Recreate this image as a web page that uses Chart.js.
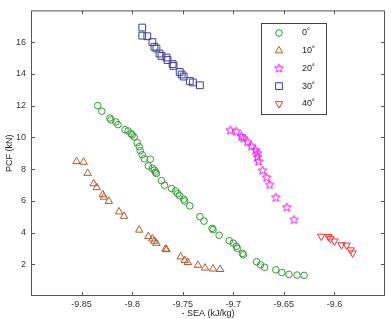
<!DOCTYPE html>
<html>
<head>
<meta charset="utf-8">
<script src="https://cdn.jsdelivr.net/npm/chart.js@4.4.0/dist/chart.umd.min.js"></script>
<style>
html, body { margin: 0; padding: 0; background: #fff; }
#wrap { width: 391px; height: 319px; }
</style>
</head>
<body>
<div id="wrap"><canvas id="c"></canvas></div>
<script>
// 각도별 데이터 (- SEA vs PCF)
const angleLabels = ['0˚', '10˚', '20˚', '30˚', '40˚'];
const xTicks = [-9.85, -9.8, -9.75, -9.7, -9.65, -9.6];
const yTicks = [2, 4, 6, 8, 10, 12, 14, 16];

const sea0 = [-9.834, -9.830, -9.822, -9.821, -9.816, -9.814, -9.807, -9.804, -9.801, -9.800,
  -9.798, -9.795, -9.793, -9.792, -9.790, -9.788, -9.782, -9.784, -9.780, -9.778,
  -9.777, -9.776, -9.771, -9.768, -9.761, -9.757, -9.755, -9.753, -9.749, -9.748,
  -9.743, -9.733, -9.729, -9.721, -9.720, -9.714, -9.704, -9.700, -9.697, -9.696,
  -9.691, -9.690, -9.677, -9.673, -9.669, -9.658, -9.652, -9.645, -9.637, -9.630];
const pcf0 = [12.0, 11.65, 11.22, 11.10, 10.97, 10.80, 10.48, 10.40, 10.23, 10.15,
  10.03, 9.66, 9.41, 9.16, 8.90, 8.65, 8.62, 8.20, 8.05, 7.93,
  7.80, 7.72, 7.27, 6.98, 6.77, 6.62, 6.45, 6.32, 6.10, 5.98,
  5.68, 5.00, 4.72, 4.26, 4.18, 3.83, 3.48, 3.33, 3.13, 3.00,
  2.68, 2.60, 2.16, 1.96, 1.81, 1.65, 1.48, 1.36, 1.32, 1.30];

const sea10 = [-9.855, -9.848, -9.844, -9.838, -9.835, -9.829, -9.828, -9.823, -9.813, -9.808,
  -9.793, -9.784, -9.780, -9.778, -9.776, -9.767, -9.766, -9.752, -9.748, -9.745,
  -9.735, -9.728, -9.720, -9.713];
const pcf10 = [8.48, 8.44, 7.74, 7.08, 6.84, 6.39, 6.24, 5.97, 5.31, 5.03,
  4.16, 3.75, 3.60, 3.46, 3.33, 2.96, 2.93, 2.47, 2.25, 2.12,
  1.94, 1.77, 1.71, 1.68];

const sea20 = [-9.703, -9.697, -9.692, -9.690, -9.686, -9.682, -9.678, -9.676, -9.676, -9.675,
  -9.671, -9.667, -9.664, -9.658, -9.647, -9.640];
const pcf20 = [10.44, 10.36, 10.05, 9.95, 9.70, 9.44, 9.18, 9.00, 8.75, 8.48,
  7.90, 7.46, 7.00, 6.20, 5.58, 4.80];

const sea30 = [-9.790, -9.790, -9.785, -9.780, -9.778, -9.776, -9.773, -9.771, -9.766, -9.765,
  -9.760, -9.759, -9.753, -9.751, -9.749, -9.743, -9.740, -9.733];
const pcf30 = [16.92, 16.41, 16.37, 16.00, 15.71, 15.60, 15.28, 15.13, 15.03, 14.87,
  14.62, 14.50, 14.12, 13.96, 13.83, 13.55, 13.46, 13.28];

const sea40 = [-9.613, -9.606, -9.604, -9.600, -9.593, -9.588, -9.584, -9.582];
const pcf40 = [3.76, 3.74, 3.62, 3.46, 3.22, 3.20, 2.90, 2.70];

const colors = ['#2e9a2e', '#b5572a', '#ff00ff', '#3c3c9c', '#ff3030'];

function pairs(xs, ys) {
    return xs.map((v, i) => ({ x: v, y: ys[i] }));
}

// 별 모양 마커
function starMarker(color) {
    const c = document.createElement('canvas');
    c.width = 11; c.height = 11;
    const g = c.getContext('2d');
    g.strokeStyle = color;
    g.lineWidth = 1;
    g.beginPath();
    for (let i = 0; i < 10; i++) {
        const r = i % 2 === 0 ? 4.6 : 2.0;
        const a = -Math.PI / 2 + i * Math.PI / 5;
        const px = 5.5 + r * Math.cos(a), py = 5.5 + r * Math.sin(a);
        if (i === 0) g.moveTo(px, py); else g.lineTo(px, py);
    }
    g.closePath();
    g.stroke();
    return c;
}

const markers = [
    { pointStyle: 'circle', radius: 3.3, rotation: 0 },
    { pointStyle: 'triangle', radius: 4.3, rotation: 0 },
    { pointStyle: starMarker(colors[2]), radius: 5, rotation: 0 },
    { pointStyle: 'rect', radius: 4.8, rotation: 0 },
    { pointStyle: 'triangle', radius: 4.3, rotation: 180 }
];

const seriesX = [sea0, sea10, sea20, sea30, sea40];
const seriesY = [pcf0, pcf10, pcf20, pcf30, pcf40];

const datasets = angleLabels.map((lab, i) => ({
    label: lab,
    data: pairs(seriesX[i], seriesY[i]),
    pointStyle: markers[i].pointStyle,
    pointRadius: markers[i].radius,
    pointRotation: markers[i].rotation,
    borderColor: colors[i],
    backgroundColor: 'rgba(0,0,0,0)',
    pointBorderWidth: 1,
    showLine: false
}));

const axisFont = { family: 'Liberation Sans, Arial, sans-serif', size: 9 };

// 테두리, 안쪽 눈금, 범례
const framePlugin = {
    id: 'frame',
    afterDatasetsDraw(chart) {
        const { ctx, chartArea: a, scales: { x, y } } = chart;
        ctx.save();
        ctx.strokeStyle = '#555';
        ctx.lineWidth = 1;
        ctx.strokeRect(a.left + 0.5, a.top + 0.5, a.width - 1, a.height - 1);
        ctx.beginPath();
        xTicks.forEach(v => {
            const px = Math.round(x.getPixelForValue(v)) + 0.5;
            ctx.moveTo(px, a.bottom); ctx.lineTo(px, a.bottom - 4);
            ctx.moveTo(px, a.top); ctx.lineTo(px, a.top + 4);
        });
        yTicks.forEach(v => {
            const py = Math.round(y.getPixelForValue(v)) + 0.5;
            ctx.moveTo(a.left, py); ctx.lineTo(a.left + 4, py);
            ctx.moveTo(a.right, py); ctx.lineTo(a.right - 4, py);
        });
        ctx.stroke();

        // 범례 상자
        const bx = 261, by = 23, bw = 65, bh = 91;
        ctx.fillStyle = '#fff';
        ctx.fillRect(bx, by, bw, bh);
        ctx.strokeStyle = '#444';
        ctx.strokeRect(bx + 0.5, by + 0.5, bw, bh);
        ctx.font = '9px Liberation Sans, Arial, sans-serif';
        ctx.textBaseline = 'middle';
        ctx.textAlign = 'left';
        chart.data.datasets.forEach((ds, i) => {
            const ry = 33 + i * 17.7;
            ctx.strokeStyle = ds.borderColor;
            ctx.fillStyle = 'rgba(0,0,0,0)';
            ctx.lineWidth = 1;
            Chart.helpers.drawPoint(ctx, {
                pointStyle: ds.pointStyle,
                radius: ds.pointRadius,
                rotation: ds.pointRotation,
                borderWidth: 1
            }, 279, ry);
            ctx.fillStyle = '#222';
            ctx.fillText(ds.label, 302, ry);
        });
        ctx.restore();
    }
};

new Chart(document.getElementById('c'), {
    type: 'scatter',
    data: { datasets: datasets },
    options: {
        responsive: true,
        maintainAspectRatio: false,
        animation: false,
        events: [],
        layout: { padding: { left: 4, right: 5, top: 5, bottom: 0 } },
        plugins: { legend: { display: false }, tooltip: { enabled: false } },
        scales: {
            x: {
                type: 'linear',
                min: -9.9,
                max: -9.55,
                afterBuildTicks: s => { s.ticks = xTicks.map(v => ({ value: v })); },
                afterFit: s => { s.height = 23; },
                ticks: { font: axisFont, color: '#333', padding: 3, maxRotation: 0, callback: v => String(v) },
                grid: { display: false, drawTicks: false },
                border: { display: false },
                title: { display: true, text: '- SEA (kJ/kg)', font: axisFont, color: '#222', padding: 0 }
            },
            y: {
                type: 'linear',
                min: 0,
                max: 18,
                afterBuildTicks: s => { s.ticks = yTicks.map(v => ({ value: v })); },
                afterFit: s => { s.width = 27; },
                ticks: { font: axisFont, color: '#333', padding: 5, callback: v => String(v) },
                grid: { display: false, drawTicks: false },
                border: { display: false },
                title: { display: true, text: 'PCF (kN)', font: axisFont, color: '#222', padding: 0 }
            }
        }
    },
    plugins: [framePlugin]
});
</script>
</body>
</html>
